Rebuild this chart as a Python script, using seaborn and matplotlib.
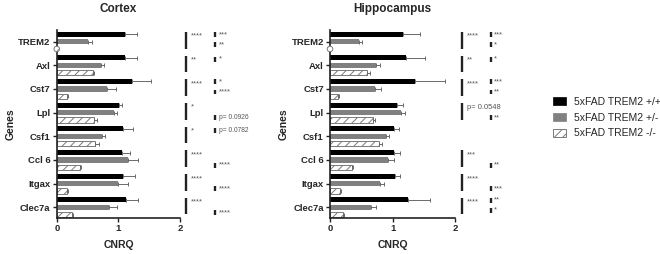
import matplotlib
matplotlib.use("Agg")
import matplotlib.pyplot as plt
from matplotlib.patches import Patch
import seaborn as sns
import pandas as pd

sns.set_theme(style="ticks")
plt.rcParams['font.family'] = ['Liberation Sans', 'DejaVu Sans']
plt.rcParams['hatch.linewidth'] = 0.7
plt.rcParams['hatch.color'] = '#7a7a7a'

genes = ["TREM2", "Axl", "Cst7", "Lpl", "Csf1", "Ccl 6", "Itgax", "Clec7a"]
groups = ["5xFAD TREM2 +/+", "5xFAD TREM2 +/-", "5xFAD TREM2 -/-"]

# Cortex
ctx_wt = [1.10, 1.10, 1.22, 1.01, 1.07, 1.05, 1.08, 1.12]
ctx_het = [0.50, 0.71, 0.81, 0.92, 0.73, 1.16, 1.00, 0.84]
ctx_ko = [0.00, 0.58, 0.16, 0.61, 0.62, 0.38, 0.16, 0.24]
ctx_wt_err = [0.20, 0.20, 0.30, 0.04, 0.17, 0.13, 0.18, 0.20]
ctx_het_err = [0.07, 0.06, 0.15, 0.05, 0.05, 0.15, 0.15, 0.13]
ctx_ko_err = [0.00, 0.02, 0.03, 0.05, 0.06, 0.02, 0.02, 0.02]

# Hippocampus
hip_wt = [1.16, 1.21, 1.35, 1.07, 1.02, 1.02, 1.03, 1.24]
hip_het = [0.47, 0.73, 0.71, 1.13, 0.89, 0.92, 0.79, 0.65]
hip_ko = [0.00, 0.59, 0.12, 0.68, 0.78, 0.35, 0.16, 0.21]
hip_wt_err = [0.27, 0.30, 0.48, 0.09, 0.08, 0.09, 0.08, 0.35]
hip_het_err = [0.04, 0.06, 0.10, 0.06, 0.05, 0.10, 0.07, 0.08]
hip_ko_err = [0.00, 0.04, 0.02, 0.04, 0.05, 0.02, 0.02, 0.02]

# Significance annotations: column 1 (+/+ vs -/-), column 2 (pairs: upper, lower)
ctx_sig1 = ["****", "**", "****", "*", "*", "****", "****", "****"]
ctx_sig2_up = ["***", "*", "*", "", "p= 0.0782", "", "", ""]
ctx_sig2_lo = ["**", "", "****", "p= 0.0926", "", "****", "****", "****"]
hip_sig1 = ["****", "**", "****", "p= 0.0548", "", "***", "****", "****"]
hip_sig2_up = ["***", "*", "***", "", "", "", "", "**"]
hip_sig2_lo = ["*", "", "**", "**", "", "**", "***", "*"]

colors = ["#000000", "#808080", "#ffffff"]
err_color = "#6a6a6a"


def make_df(a, b, c):
    rows = []
    for g, vals in zip(groups, [a, b, c]):
        for gene, v in zip(genes, vals):
            rows.append({"gene": gene, "group": g, "value": v})
    return pd.DataFrame(rows)


def draw(ax, vals, errs, title, sig1, sig2u, sig2l, c1x, c2x):
    df = make_df(*vals)
    sns.barplot(data=df, y="gene", x="value", hue="group", orient="h",
                palette=colors, width=0.94, gap=0.3, errorbar=None,
                legend=False, saturation=1, ax=ax, linewidth=0)
    # hatch the knockout bars
    for p in ax.containers[2]:
        p.set_facecolor("white")
        p.set_edgecolor("#7a7a7a")
        p.set_linewidth(0.7)
        p.set_hatch("////")
    # error bars (one-sided)
    for h in range(3):
        for i, p in enumerate(ax.containers[h]):
            yc = p.get_y() + p.get_height() / 2
            v = vals[h][i]
            e = errs[h][i]
            if v == 0:
                ax.scatter([0], [yc], s=16, marker="o", facecolor="white",
                           edgecolor="#7a7a7a", linewidth=0.7, hatch="////",
                           zorder=5, clip_on=False)
                continue
            if e > 0:
                ax.errorbar([v], [yc], xerr=[[0], [e]], fmt="none",
                            ecolor=err_color, elinewidth=0.7, capsize=1.4,
                            capthick=0.7, zorder=1)
    ax.set_xlim(0, 2)
    ax.set_ylim(7.45, -0.49)
    ax.set_xticks([0, 1, 2])
    ax.set_xlabel("CNRQ", fontsize=7.5, fontweight="bold", labelpad=5)
    ax.set_ylabel("Genes", fontsize=7.5, fontweight="bold", labelpad=2)
    ax.set_title(title, fontsize=8.5, fontweight="bold", pad=13)
    ax.tick_params(axis="both", labelsize=6.8, length=3, width=1.0,
                   color="#222222", pad=1.5)
    for lab in ax.get_xticklabels() + ax.get_yticklabels():
        lab.set_fontweight("bold")
    for s in ["top", "right"]:
        ax.spines[s].set_visible(False)
    for s in ["left", "bottom"]:
        ax.spines[s].set_linewidth(1.2)
        ax.spines[s].set_color("#222222")

    tc = "#555555"
    for i in range(len(genes)):
        if sig1[i]:
            ax.plot([c1x, c1x], [i - 0.40, i + 0.30], color="#222222", lw=1.7,
                    clip_on=False, solid_capstyle="butt")
            ax.text(c1x + 0.08, i - 0.22, sig1[i], fontsize=5.4, color=tc,
                    va="center", ha="left", clip_on=False)
        pairs = []
        if sig2u[i] and sig2l[i]:
            pairs = [(sig2u[i], -0.30), (sig2l[i], 0.13)]
        elif sig2u[i]:
            pairs = [(sig2u[i], -0.25)]
        elif sig2l[i]:
            pairs = [(sig2l[i], 0.22)]
        for txt, off in pairs:
            ax.plot([c2x, c2x], [i + off - 0.10, i + off + 0.10], color="#222222",
                    lw=1.7, clip_on=False, solid_capstyle="butt")
            fs = 4.8 if txt.startswith("p") else 5.4
            ax.text(c2x + 0.06, i + off, txt, fontsize=fs, color=tc,
                    va="center", ha="left", clip_on=False)


fig = plt.figure(figsize=(6.6, 2.54), dpi=100)
ax1 = fig.add_axes([0.086, 0.142, 0.187, 0.74])
ax2 = fig.add_axes([0.500, 0.142, 0.190, 0.74])

draw(ax1, [ctx_wt, ctx_het, ctx_ko], [ctx_wt_err, ctx_het_err, ctx_ko_err],
     "Cortex", ctx_sig1, ctx_sig2_up, ctx_sig2_lo, 2.10, 2.57)
draw(ax2, [hip_wt, hip_het, hip_ko], [hip_wt_err, hip_het_err, hip_ko_err],
     "Hippocampus", hip_sig1, hip_sig2_up, hip_sig2_lo, 2.11, 2.56)

handles = [Patch(facecolor="#000000", edgecolor="#000000", linewidth=0.5),
           Patch(facecolor="#808080", edgecolor="#808080", linewidth=0.5),
           Patch(facecolor="white", edgecolor="#7a7a7a", linewidth=0.7, hatch="////")]
fig.legend(handles, groups, loc="upper left", bbox_to_anchor=(0.832, 0.635),
           frameon=False, fontsize=7.5, handlelength=1.2, handleheight=0.75,
           handletextpad=0.8, labelspacing=0.55, borderaxespad=0)

fig.savefig("out.png", dpi=100)
